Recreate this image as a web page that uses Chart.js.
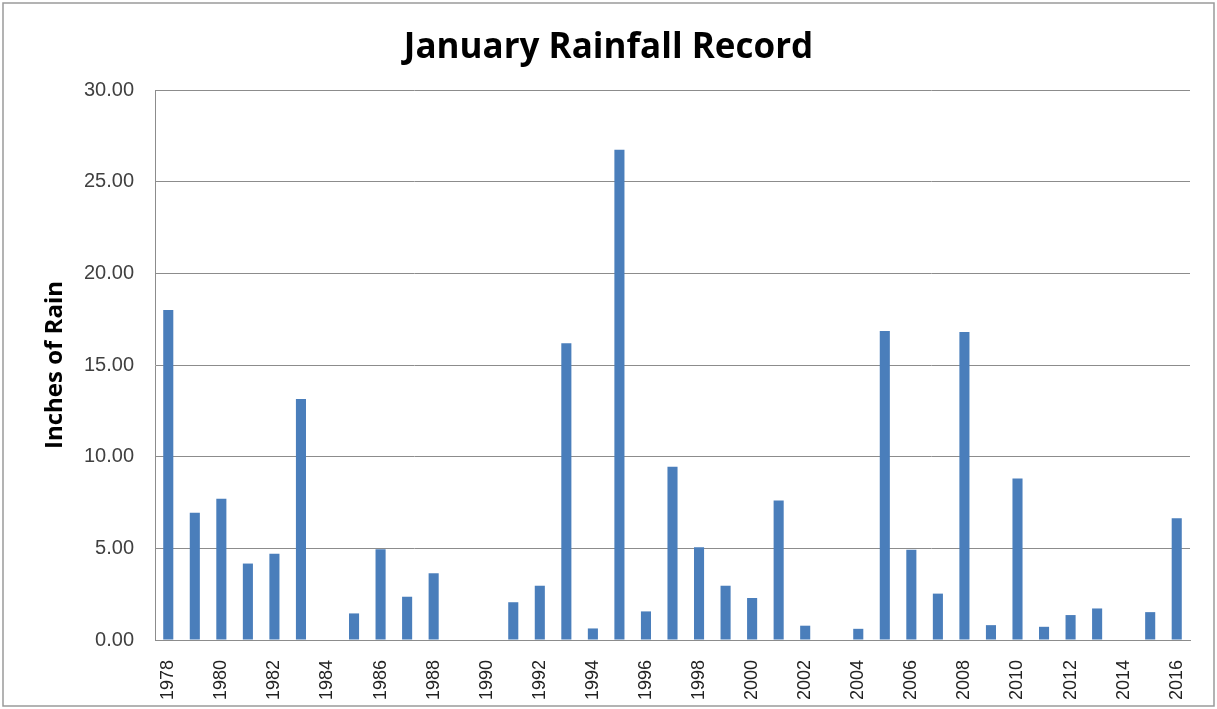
<!DOCTYPE html>
<html>
<head>
<meta charset="utf-8">
<script src="https://cdn.jsdelivr.net/npm/chart.js@4/dist/chart.umd.min.js"></script>
<style>
  html, body { margin: 0; padding: 0; background: #fff; }
  #wrap { width: 1217px; height: 709px; position: relative; }
</style>
</head>
<body>
<div id="wrap"><canvas id="rain"></canvas></div>
<script>
// January rainfall, 1978 - 2016
const years = [];
for (let y = 1978; y <= 2016; y++) years.push(String(y));

const inches = [
    18.0, 6.94, 7.7, 4.17, 4.71, 13.15, 0, 1.45, 4.95, 2.36,
    3.64, 0, 0, 2.06, 2.96, 16.18, 0.63, 26.74, 1.56, 9.45,
    5.06, 2.96, 2.29, 7.61, 0.78, 0, 0.61, 16.85, 4.92, 2.53,
    16.8, 0.81, 8.81, 0.72, 1.36, 1.72, 0, 1.52, 6.64
];

const yTicks = [0, 5, 10, 15, 20, 25, 30];

const frame = {
    id: "frame",
    beforeDraw(chart) {
        const ctx = chart.ctx;
        ctx.save();
        ctx.fillStyle = "#fff";
        ctx.fillRect(0, 0, chart.width, chart.height);
        ctx.strokeStyle = "#9a9a9a";
        ctx.lineWidth = 1.5;
        ctx.strokeRect(3, 3, chart.width - 6, chart.height - 6);
        ctx.restore();
    }
};

new Chart(document.getElementById("rain"), {
    type: "bar",
    data: {
        labels: years,
        datasets: [{
            data: inches,
            backgroundColor: "#4a7ebb",
            barPercentage: 0.38,
            categoryPercentage: 1.0
        }]
    },
    options: {
        responsive: true,
        maintainAspectRatio: false,
        animation: false,
        layout: { padding: 0 },
        plugins: {
            legend: { display: false },
            tooltip: { enabled: false },
            title: {
                display: true,
                text: "January Rainfall Record",
                color: "#000",
                font: { family: "'Open Sans', sans-serif", size: 35, weight: "bold" },
                padding: { top: 27, bottom: 21 }
            }
        },
        scales: {
            x: {
                grid: { display: false },
                border: { display: true, color: "#8c8c8c", width: 1 },
                ticks: {
                    autoSkip: false,
                    minRotation: 90,
                    maxRotation: 90,
                    color: "#222",
                    padding: 12,
                    font: { family: "'Liberation Sans', Arial, sans-serif", size: 18 },
                    callback: function (v, i) { return i % 2 === 0 ? years[i] : ""; }
                },
                afterFit: function (s) { s.height = 69; }
            },
            y: {
                min: 0,
                max: 30,
                afterBuildTicks: function (s) { s.ticks = yTicks.map(v => ({ value: v })); },
                grid: { color: "#8c8c8c", lineWidth: 1, drawTicks: false },
                border: { display: true, color: "#8c8c8c", width: 1 },
                ticks: {
                    color: "#404040",
                    padding: 21,
                    font: { family: "'Liberation Sans', Arial, sans-serif", size: 20 },
                    callback: function (v) { return Number(v).toFixed(2); }
                },
                title: {
                    display: true,
                    text: "Inches of Rain",
                    color: "#000",
                    font: { family: "'Open Sans', sans-serif", size: 24, weight: "bold" },
                    padding: { top: 41, bottom: 0 }
                },
                afterFit: function (s) { s.width = 155; }
            },
            // empty right-hand spacer so the title stays centred on the canvas
            spacer: {
                position: "right",
                min: 0,
                max: 30,
                grid: { display: false },
                border: { display: false },
                ticks: { display: false },
                afterFit: function (s) { s.width = 27; }
            }
        }
    },
    plugins: [frame]
});
</script>
</body>
</html>
